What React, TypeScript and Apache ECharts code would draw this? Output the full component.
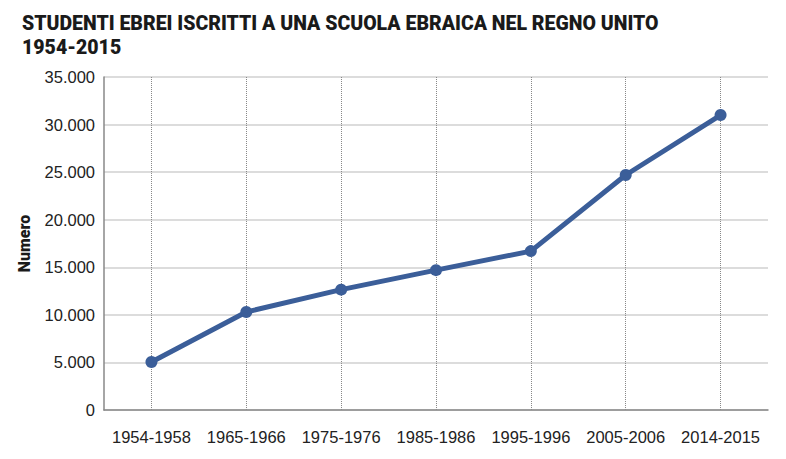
import React, { useEffect, useRef } from "react";
import * as echarts from "echarts";

const categories = ["1954-1958", "1965-1966", "1975-1976", "1985-1986", "1995-1996", "2005-2006", "2014-2015"];
const students = [5050, 10300, 12650, 14700, 16700, 24700, 31000];
const titleText = "STUDENTI EBREI ISCRITTI A UNA SCUOLA EBRAICA NEL REGNO UNITO\n1954-2015";
const yAxisName = "Numero";

export default function App() {
  const ref = useRef<HTMLDivElement>(null);
  useEffect(() => {
    const chart = echarts.init(ref.current!, null, { renderer: "svg" });
    chart.setOption({
      animation: false,
      title: {
        text: titleText,
        left: 17,
        top: 6,
        textStyle: {
          fontFamily: "Roboto",
          fontWeight: 900,
          fontSize: 19.5,
          lineHeight: 24,
          color: "#1a1a1a",
        },
      },
      grid: { left: 104, right: 18, top: 77, bottom: 49 },
      xAxis: {
        type: "category",
        data: categories,
        boundaryGap: true,
        axisLine: { lineStyle: { color: "#888", width: 1.5 } },
        axisTick: { alignWithLabel: true, interval: 0, length: 10, lineStyle: { color: "#888", type: "dotted" } },
        axisLabel: { interval: 0, margin: 18, fontSize: 16.5, color: "#222", fontFamily: "Liberation Sans" },
        splitLine: { show: false },
      },
      yAxis: {
        type: "value",
        min: 0,
        max: 35000,
        interval: 5000,
        name: yAxisName,
        nameLocation: "middle",
        nameGap: 72,
        nameTextStyle: { fontFamily: "Roboto", fontWeight: 900, fontSize: 16, color: "#1a1a1a" },
        axisLine: { show: true, lineStyle: { color: "#888", width: 1.5 } },
        axisTick: { show: false },
        axisLabel: {
          margin: 9,
          fontSize: 16.5,
          color: "#222",
          fontFamily: "Liberation Sans",
          formatter: (v: number) => (v === 0 ? "0" : v.toLocaleString("de-DE")),
        },
        splitLine: { lineStyle: { color: "#d0d0d0", width: 1.5 } },
      },
      series: [
        {
          type: "line",
          data: students,
          symbol: "circle",
          symbolSize: 12,
          itemStyle: { color: "#3b5e99" },
          lineStyle: { color: "#3b5e99", width: 5 },
          markLine: {
            silent: true,
            symbol: "none",
            label: { show: false },
            lineStyle: { color: "#888", type: "dotted", width: 1 },
            data: categories.map((c) => ({ xAxis: c })),
            z: 0,
          },
          z: 3,
        },
      ],
    });
    return () => chart.dispose();
  }, []);
  return <div ref={ref} style={{ width: 786, height: 459, position: "absolute", left: 0, top: 0 }} />;
}
